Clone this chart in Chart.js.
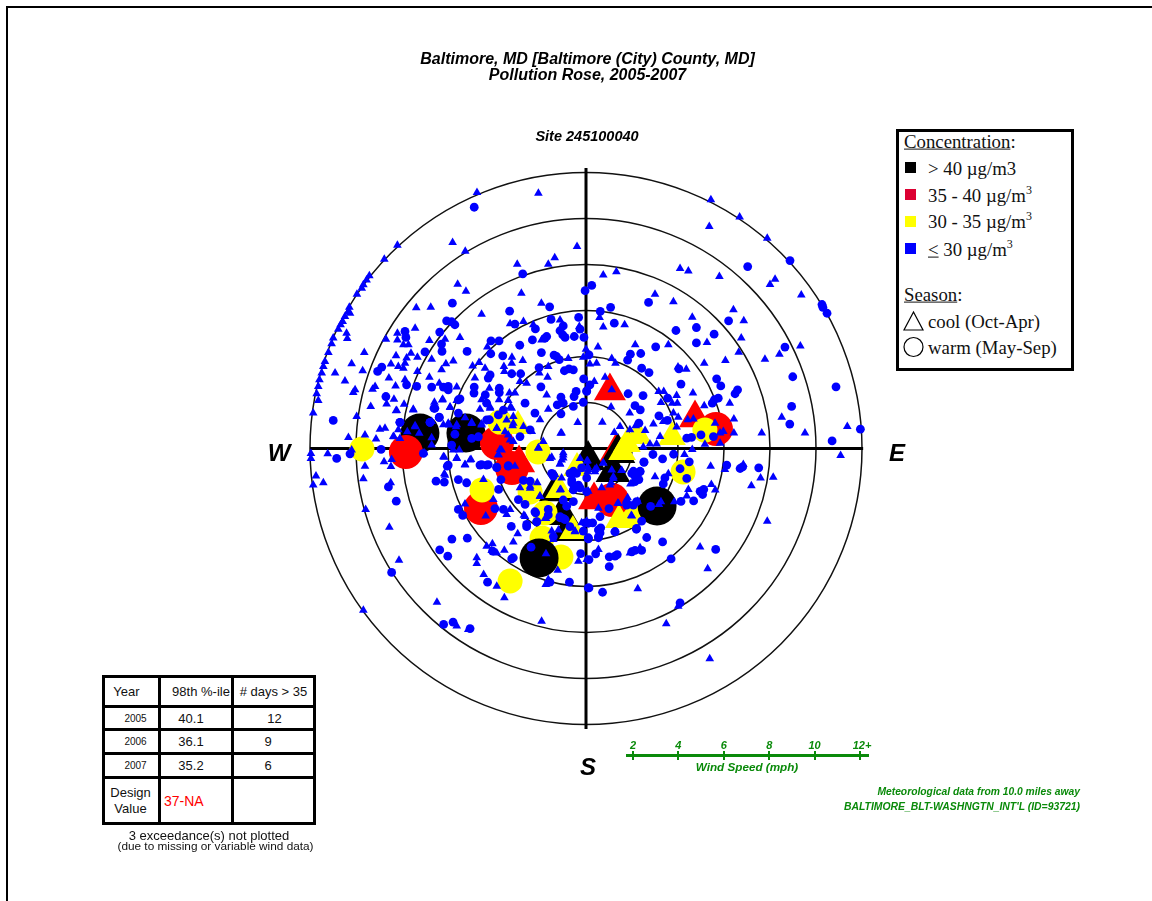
<!DOCTYPE html>
<html>
<head>
<meta charset="utf-8">
<title>Pollution Rose</title>
<script src="https://cdn.jsdelivr.net/npm/chart.js@4"></script>
<style>
html, body { margin: 0; padding: 0; background: #fff; overflow: hidden; }
#page { position: relative; width: 1152px; height: 901px; overflow: hidden; font-family: "Liberation Sans", Arial, sans-serif; }
#rose { position: absolute; left: 0; top: 0; }
.frame { position: absolute; background: #000; }
.t { position: absolute; white-space: nowrap; line-height: 1; }
.c { transform: translate(-50%, -50%); }
.bi { font-weight: bold; font-style: italic; }
.green { color: #0a8a0a; }
#legend { position: absolute; left: 896px; top: 129px; width: 172px; height: 236px; border: 3px solid #000; font-family: "Liberation Serif", serif; font-size: 18.8px; color: #111; background: #fff; }
#legend .t { transform: translateY(-50%); }
#legend .sw { position: absolute; width: 11px; height: 11px; left: 6px; }
#legend sup { font-size: 12px; line-height: 0; }
#stats { position: absolute; left: 102px; top: 675px; border-collapse: collapse; table-layout: fixed; width: 211px; font-size: 13px; color: #111; background: #fff; }
#stats td { border: 3px solid #000; padding: 0; text-align: center; }
#wind { position: absolute; left: 626px; top: 754px; width: 243px; height: 3px; background: #0a8a0a; }
.tick { position: absolute; top: 751px; width: 2px; height: 9px; background: #0a8a0a; }
</style>
</head>
<body>
<div id="page">
  <canvas id="rose" width="1152" height="901"></canvas>
  <div class="frame" style="left:6px;top:6px;width:1146px;height:2px"></div>
  <div class="frame" style="left:6px;top:6px;width:2px;height:895px"></div>

  <div class="t c bi" style="left:587.5px;top:59px;font-size:16px">Baltimore, MD [Baltimore (City) County, MD]</div>
  <div class="t c bi" style="left:587.5px;top:75px;font-size:16px">Pollution Rose, 2005-2007</div>
  <div class="t c bi" style="left:587px;top:136px;font-size:14.5px">Site 245100040</div>

  <div class="t c bi" style="left:279px;top:453px;font-size:24px">W</div>
  <div class="t c bi" style="left:897px;top:453px;font-size:24px">E</div>
  <div class="t c bi" style="left:588px;top:767px;font-size:24px">S</div>

  <div id="legend">
    <div class="t" style="left:5px;top:10px"><u>Concentration</u>:</div>
    <div class="sw" style="top:30px;background:#000"></div>
    <div class="t" style="left:29px;top:37px">&gt; 40 µg/m3</div>
    <div class="sw" style="top:57px;background:#dc0032"></div>
    <div class="t" style="left:29px;top:64px">35 - 40 µg/m<sup>3</sup></div>
    <div class="sw" style="top:84px;background:#ffff00"></div>
    <div class="t" style="left:29px;top:90px">30 - 35 µg/m<sup>3</sup></div>
    <div class="sw" style="top:111px;background:#0000ff"></div>
    <div class="t" style="left:29px;top:118px"><u>&lt;</u> 30 µg/m<sup>3</sup></div>
    <div class="t" style="left:5px;top:163px"><u>Season</u>:</div>
    <svg style="position:absolute;left:4px;top:178px" width="24" height="60">
      <path d="M10.5 2 L1 20 L20 20 Z" fill="none" stroke="#000" stroke-width="1.2"/>
      <circle cx="10.5" cy="37" r="9.5" fill="none" stroke="#000" stroke-width="1.2"/>
    </svg>
    <div class="t" style="left:29px;top:190px">cool (Oct-Apr)</div>
    <div class="t" style="left:29px;top:216px">warm (May-Sep)</div>
  </div>

  <table id="stats"></table>
  <div class="t c" style="left:209px;top:835px;font-size:13px;color:#111">3 exceedance(s) not plotted</div>
  <div class="t c" style="left:215.5px;top:847px;font-size:11.8px;color:#111">(due to missing or variable wind data)</div>

  <div id="wind"></div>
  <div class="t c bi green" style="left:747px;top:767px;font-size:11.7px">Wind Speed (mph)</div>
  <div class="t bi green" style="right:72px;top:787px;font-size:10.3px">Meteorological data from 10.0 miles away</div>
  <div class="t bi green" style="right:72px;top:802px;font-size:10.4px">BALTIMORE_BLT-WASHNGTN_INT'L (ID=93721)</div>
</div>

<script>
// wind rings, mph
const rings = [2, 4, 6, 8, 10, 12];
const windLabels = ['2', '4', '6', '8', '10', '12+'];

// table rows
const statHeader = ['Year', '98th %-ile', '# days > 35'];
const statYears = ['2005', '2006', '2007'];
const stat98th = ['40.1', '36.1', '35.2'];
const statDays = ['12', '9', '6'];
const designValue = '37-NA';

// every point is [east, north] in mph
const redTrianglesLow = [[1.30,-0.20]];
const blackTriangles = [[0.09,-0.50],[1.39,-0.20],[1.17,-1.02],[-1.30,-1.86],[-1.04,-2.89],[-0.78,-3.59]];
const yellowCirclesLow = [[-1.91,-3.89],[-1.09,-4.72],[1.91,-2.89]];
const blackCircles = [[-7.22,0.67],[-5.22,0.67],[-2.04,-4.76],[3.09,-2.50]];
const redCircles = [[-7.83,-0.15],[-3.87,0.24],[-4.57,-2.59],[5.65,0.85],[-3.22,-0.85],[1.13,-2.24]];
const redTriangles = [[1.04,2.50],[4.74,1.33],[-2.91,-0.63],[0.35,-2.24]];
const yellowCircles = [[-9.74,-0.02],[-3.30,-5.76],[-4.52,-1.80],[4.22,-1.02],[-2.09,-0.15],[-2.43,-1.89],[-1.78,-2.80],[-3.74,1.15],[5.17,0.80]];
const yellowTriangles = [[-2.96,0.98],[1.57,-0.15],[1.78,0.20],[2.26,0.54],[3.74,0.50],[-0.57,-3.59],[-1.17,-1.80],[-0.39,-0.85],[1.43,-3.11]];

const blueCircles = [
  [-4.86,10.49],[-2.75,7.59],[-0.04,6.86],[-5.81,6.32],[-3.32,5.97],[-1.58,6.16],[-1.52,5.61],[-0.32,5.70],[-6.06,5.55],[-5.84,5.51],
  [-5.70,5.38],[-3.09,5.41],[-2.20,5.20],[-0.99,5.33],[-0.26,5.19],[-1.13,5.12],[-1.01,4.94],[-0.91,4.83],[-0.51,4.87],[-0.09,4.83],
  [-1.71,4.87],[-1.78,4.80],[-2.33,4.72],[-7.87,5.09],[-7.83,4.83],[-6.36,5.06],[-6.28,4.54],[-6.26,4.22],[-5.17,4.22],[-7.00,4.20],
  [-4.13,4.68],[-3.78,4.68],[-4.14,4.12],[-3.62,4.03],[-2.88,4.49],[-1.94,4.17],[-1.39,4.06],[-1.28,4.00],[-1.16,3.86],[-0.94,3.38],
  [-0.74,3.46],[-0.55,3.42],[-2.04,3.52],[-4.17,3.20],[-4.25,3.06],[-3.23,3.25],[-2.84,3.25],[-0.10,3.03],[0.03,2.51],[-1.96,2.68],
  [-2.65,1.97],[-2.22,1.54],[-1.09,2.23],[-0.52,2.26],[-0.43,2.48],[-1.25,1.90],[-0.99,1.97],[-0.12,2.01],[-0.55,1.83],[-1.09,1.51],
  [-9.06,3.35],[-8.88,3.54],[-7.36,2.70],[-7.80,2.77],[-6.71,2.67],[-6.20,2.67],[-5.99,2.70],[-5.99,2.55],[-4.86,2.67],[-4.87,2.41],
  [-4.38,2.33],[-3.77,2.62],[-3.77,2.43],[-5.48,2.16],[-6.61,1.75],[-6.38,1.36],[-10.99,1.22],[-8.09,1.14],[-6.78,1.14],[-8.70,2.26],
  [-5.55,1.54],[-4.20,1.25],[-3.81,1.46],[-2.87,0.52],[-2.43,0.81],[-4.32,1.97],
  [-6.78,1.14],[-6.38,1.34],[-5.70,0.62],[-8.09,1.14],[-6.57,1.75],[-5.55,2.11],[-4.32,1.24],[-5.84,0.15],[-7.07,-0.21],[-4.97,0.44],
  [-4.68,0.51],[-5.99,-0.72],[-4.61,-0.72],[-4.32,-0.72],[-3.88,-0.83],[-3.38,-0.75],[-3.59,1.67],
  [7.03,7.91],[8.87,8.17],[10.26,6.26],[10.30,6.14],[10.48,5.88],[0.25,7.09],[2.72,6.35],[1.07,6.14],[0.62,5.96],[1.23,5.45],
  [3.91,5.13],[4.80,5.26],[6.20,5.55],[5.57,4.97],[4.80,4.59],[3.03,4.42],[8.65,4.41],[1.93,4.10],[2.38,4.13],[1.81,3.84],
  [0.13,4.07],[2.42,3.49],[2.74,3.30],[4.04,3.46],[5.68,3.03],[5.86,2.72],[8.99,3.12],[10.87,2.68],[4.13,2.80],[1.83,2.38],
  [2.48,2.30],[6.59,2.55],[6.48,2.38],[5.75,2.19],[5.58,2.12],[5.49,1.97],[2.13,1.86],[2.36,1.68],[8.94,1.83],[8.86,1.06],
  [3.17,1.42],[3.54,1.22],[2.30,1.10],[11.93,0.84],[10.70,0.33],[5.00,0.59],[4.59,0.48],[4.38,0.45],[5.54,0.52],[0.03,2.48],
  [0.17,2.77],[3.55,2.19],
  [-10.84,-0.43],[-10.26,-0.23],[-8.91,-0.04],[-8.59,-1.67],[-8.25,-2.29],[-8.45,-5.39],[-6.19,-7.65],[-5.78,-7.55],[-5.04,-7.83],[-5.83,-3.94],
  [-5.16,-3.90],[-6.36,-4.41],[-6.01,-4.68],[-4.06,-4.46],[-3.23,-4.80],[-3.16,-4.75],[-4.28,-5.81],[-0.72,-5.81],[0.10,-6.06],[-1.57,-5.81],
  [-0.23,-4.57],[-2.39,-4.29],[-3.25,-3.39],[-2.58,-3.30],[-2.14,-3.19],[-5.36,-2.91],[-5.55,-2.65],[-3.96,-2.61],[-3.59,-2.65],[-6.52,-1.42],
  [-6.16,-1.46],[-5.55,-1.35],[-5.19,-1.49],[-3.80,-1.78],[-3.70,-1.35],[-6.03,-0.77],[-4.54,-0.70],[-4.25,-0.70],[-3.88,-0.81],[-3.38,-0.77],
  [-2.94,-2.22],[-2.65,-2.43],[-2.19,-2.80],[-1.64,-2.65],[-1.13,-3.01],[-0.91,-3.09],[-0.84,-2.51],[-0.62,-1.49],[-0.26,-1.71],[0.03,-1.28],
  [-0.19,-0.84],[-0.55,-0.99],[-2.72,-1.39],[-2.43,-1.42],[-1.42,-1.20],[0.10,-3.88],[-0.12,-3.59],
  [2.52,-0.58],[2.91,-0.26],[3.33,-0.45],[3.81,-0.25],[4.49,-0.58],[4.09,-0.88],[4.38,-1.30],[6.12,-0.72],[6.70,-0.87],[6.81,-0.80],
  [7.51,-0.84],[2.35,-0.99],[2.06,-0.99],[2.13,-1.20],[2.30,-1.35],[3.43,-1.28],[3.36,-1.54],[4.96,-1.86],[5.12,-1.78],[5.07,-2.00],
  [4.68,-2.28],[4.13,-2.30],[2.81,-2.52],[2.06,-2.46],[1.77,-2.36],[1.00,-2.61],[2.42,-3.16],[2.19,-3.51],[1.26,-3.62],[2.64,-3.87],
  [3.33,-4.06],[5.64,-4.39],[2.42,-4.43],[2.13,-4.43],[1.99,-4.49],[1.36,-4.61],[1.26,-4.68],[1.01,-4.71],[0.42,-4.58],[0.13,-4.83],
  [3.70,-4.80],[1.01,-5.14],[0.13,-6.06],[0.72,-6.25],[4.09,-6.71],[0.64,-3.45],[0.61,-3.67],[0.54,-3.88],[0.10,-3.93],[0.29,-3.23],
  [-0.04,-3.23],
  [-1.49,-1.08],[-0.70,-1.08],[-0.41,-1.08],[-0.62,-1.37],[-0.33,-1.59],[-0.55,-1.80],[0.03,-1.88],[-0.99,-2.24],[-0.55,-2.31],[-0.99,-3.04],
  [-1.13,-2.96],[-1.64,-2.89],[-2.22,-2.75],[-2.58,-3.40],[-2.14,-3.18],[0.10,-3.25],[0.61,-2.96],[1.26,-3.62],[2.20,-3.47],[0.10,-3.91],
  [0.54,-3.83],[2.35,-1.01],[2.52,-0.60],[1.99,-1.08],[2.13,-1.44],[1.77,-2.46],[2.20,-2.31],[-0.70,-3.40],[-1.42,-3.83],[0.54,-3.54]
];

const blueTriangles = [
  [-4.74,11.13],[-2.07,11.10],[-8.20,8.84],[-8.77,8.23],[-5.80,8.96],[-5.25,8.58],[-0.39,8.78],[-2.99,8.01],[-1.36,8.29],[-1.64,8.01],
  [-9.42,7.51],[-9.54,7.33],[-9.68,7.12],[-9.75,6.97],[-9.96,6.71],[-5.58,7.14],[-5.22,6.84],[-2.81,6.75],[-7.38,6.12],[-6.75,6.14],
  [-4.54,5.84],[-1.94,6.32],[-10.29,6.14],[-10.33,5.96],[-10.26,5.88],[-10.48,5.74],[-10.58,5.52],[-10.67,5.38],[-10.77,5.19],[-10.41,5.01],
  [-10.38,4.78],[-10.99,4.80],[-11.06,4.55],[-11.20,4.17],[-11.35,3.78],[-11.42,3.57],[-11.49,3.28],[-11.59,2.99],[-11.64,2.70],[-11.71,2.38],
  [-11.64,2.09],[-11.86,1.54],[-7.43,5.23],[-8.70,4.75],[-8.20,5.01],[-8.20,4.72],[-6.81,4.70],[-6.13,4.75],[-5.48,4.83],[-7.94,4.51],
  [-7.72,4.51],[-9.64,4.17],[-8.26,4.03],[-7.61,4.14],[-7.33,3.97],[-7.80,3.93],[-6.71,3.88],[-7.87,3.71],[-10.19,3.68],[-9.71,3.38],
  [-8.48,3.67],[-8.16,3.57],[-7.94,3.49],[-10.91,3.28],[-10.48,2.93],[-10.04,2.55],[-10.12,2.43],[-7.33,3.35],[-6.81,3.10],[-8.57,3.06],
  [-9.17,2.70],[-9.28,2.58],[-8.28,2.72],[-7.87,2.99],[-6.38,2.84],[-5.62,2.67],[-6.28,3.42],[-6.09,3.68],[-5.77,3.80],[-4.93,3.59],
  [-4.65,3.74],[-4.29,4.41],[-4.39,3.49],[-3.57,3.57],[-3.23,3.71],[-3.22,3.97],[-2.75,3.83],[-3.55,3.35],[-4.83,3.06],[-4.20,2.62],
  [-1.64,3.57],[-2.03,3.28],[-1.67,3.10],[-0.77,3.91],[-0.12,3.97],[0.00,4.32],[-9.36,1.83],[-8.67,1.93],[-8.35,2.14],[-8.23,1.65],
  [-7.51,1.71],[-9.97,1.39],[-6.23,2.14],[-6.59,2.01],[-5.62,2.09],[-4.54,2.12],[-4.61,1.71],[-4.17,1.80],[-5.91,1.80],[-3.78,2.12],
  [-3.38,2.09],[-3.09,2.41],[-3.33,2.41],[-2.87,2.91],[-2.58,2.84],[-1.71,2.33],[-1.64,1.71],[-0.36,1.13],[-1.06,0.67],[-2.00,1.25],
  [-3.16,1.39],[-3.59,1.65],[-3.28,1.80],[-10.33,0.48],[-9.61,0.59],[-8.96,0.84],[-8.74,0.88],[-8.16,0.81],[-9.13,0.41],[-8.38,0.52],
  [-7.43,0.99],[-6.71,1.17],[-6.20,1.03],[-5.99,1.10],[-5.62,1.03],[-4.97,1.13],[-4.54,1.07],[-3.88,0.88],[-3.38,0.59],[-3.16,1.10],
  [-2.72,0.96],[-2.36,0.74],[-3.16,0.30],[-1.13,5.59],[-0.29,5.30],[-2.29,5.38],[-3.30,5.42],[-2.72,5.52],[-1.93,4.72],
  [-6.25,2.11],[-7.91,1.92],[-7.51,1.67],[-8.26,1.64],[-5.91,1.78],[-7.43,0.95],[-7.77,0.73],[-7.25,0.66],[-6.71,0.47],[-6.71,0.15],
  [-8.09,0.44],[-8.35,0.51],[-5.26,1.34],[-4.97,1.09],[-4.54,1.02],[-4.17,1.75],[-5.65,0.95],[-5.94,1.02],[-3.23,1.75],[-3.45,1.24],
  [-3.19,0.99],[-3.88,0.88],[-3.52,0.73],[-3.30,0.37],[-3.67,-0.07],[-3.81,-0.28],[-5.77,-0.07],[-5.51,-0.07],[-5.04,-0.50],[-5.26,-0.72],
  [-6.20,-0.36],[-6.13,-1.16],[-5.62,-0.43],
  [5.43,10.81],[6.68,10.06],[7.88,9.14],[5.36,9.65],[4.09,7.83],[4.45,7.72],[5.80,7.48],[8.22,7.36],[8.00,7.13],[0.75,7.54],
  [1.32,7.68],[9.36,6.67],[3.00,6.71],[3.80,6.38],[6.41,6.03],[4.62,5.71],[6.86,5.55],[0.59,5.70],[0.75,5.28],[1.68,5.38],
  [5.26,4.61],[6.75,4.80],[9.32,4.46],[0.52,4.41],[2.14,4.51],[3.58,4.51],[6.64,4.19],[8.41,4.10],[7.78,3.88],[6.06,3.83],
  [5.14,3.71],[0.46,3.71],[0.17,3.67],[1.12,3.91],[1.28,3.71],[4.00,3.54],[4.36,3.45],[0.83,3.10],[0.36,2.91],[1.12,2.55],
  [3.16,2.48],[3.38,2.48],[4.65,2.41],[3.94,2.30],[3.26,2.00],[3.75,1.97],[3.97,1.97],[6.25,1.97],[5.14,1.86],[1.90,1.54],
  [1.09,1.80],[0.71,1.14],[2.93,1.07],[3.80,1.54],[4.01,1.36],[3.36,1.17],[8.51,1.36],[6.43,1.28],[11.36,0.96],[9.52,0.67],
  [7.64,0.67],[6.43,0.67],[5.97,0.74],[5.83,0.67],[2.57,0.78],[2.16,0.99],[1.91,0.81],[1.48,0.96],[1.23,0.70],[2.78,0.20],
  [3.07,0.20],[2.49,0.06],[5.83,0.23],[5.17,0.19],[4.42,1.25],[4.67,1.28],[5.61,1.10],[3.94,0.93],[3.22,0.52],
  [-11.96,-0.22],[-11.96,-0.43],[-11.23,-0.23],[-10.19,-0.07],[-9.61,-0.77],[-8.78,-0.58],[-8.45,-0.48],[-8.48,-0.78],[-7.04,-0.19],[-9.68,-1.32],
  [-11.74,-1.20],[-11.86,-1.59],[-11.42,-1.49],[-8.49,-1.49],[-9.58,-2.65],[-8.55,-3.42],[-8.13,-4.86],[-9.68,-7.03],[-6.48,-6.68],[-5.62,-7.72],
  [-5.12,-7.87],[-1.93,-7.51],[-3.55,-6.49],[-3.88,-5.99],[-1.75,-5.91],[-1.64,-5.70],[-1.23,-5.29],[-4.45,-5.48],[-4.75,-4.75],[-4.75,-5.00],
  [-4.32,-4.25],[-4.07,-4.14],[-4.10,-4.43],[-3.88,-4.54],[-3.55,-4.42],[-3.16,-4.07],[-2.97,-3.71],[-2.70,-2.90],[-3.45,-2.87],[-3.30,-2.65],
  [-4.36,-2.94],[-4.03,-2.22],[-5.26,-2.41],[-4.46,-1.35],[-6.16,-0.38],[-5.62,-0.41],[-5.26,-0.70],[-5.00,-0.48],[-6.16,-1.10],[-3.09,-0.77],
  [-3.81,-0.26],[-3.74,-0.04],[-2.07,0.03],[-1.49,-0.38],[-0.99,-0.19],[-0.99,-0.41],[-1.13,-0.67],[-1.74,-3.04],[-0.48,-3.59],[-1.10,-1.78],
  [-2.00,-2.07],[-2.87,-1.71],[-2.12,-1.49],[-2.43,-1.64],[-1.35,-1.13],[-1.06,-1.28],[-0.19,-3.23],[0.03,-3.16],[-1.49,-3.59],[-1.42,-3.96],
  [-0.33,-4.90],[0.03,-4.83],[-1.74,-4.58],
  [11.07,-0.30],[5.42,-0.77],[4.62,-0.04],[4.28,-0.26],[6.04,-0.91],[6.84,-0.70],[8.14,-1.25],[7.59,-1.28],[7.19,-1.62],[5.45,-1.57],
  [5.62,-1.80],[4.45,-1.78],[4.38,-2.07],[3.00,-1.23],[3.58,-1.10],[1.93,-1.54],[1.19,-1.23],[1.55,-0.96],[0.39,-0.91],[0.03,-0.55],
  [0.10,-0.91],[0.75,-0.62],[1.09,-1.49],[0.10,-1.86],[1.41,-2.39],[1.81,-2.14],[2.25,-2.29],[3.26,-2.32],[3.17,-2.43],[3.84,-2.32],
  [1.97,-2.91],[7.88,-3.16],[4.96,-4.28],[5.29,-5.23],[2.25,-6.10],[4.01,-6.86],[3.49,-7.62],[5.38,-9.14],[0.54,-4.39],[1.91,-4.54],
  [2.35,-4.32],[0.68,-1.71],
  [-1.10,0.66],[-1.86,0.30],[-2.07,0.01],[-0.99,-0.28],[-1.06,-0.50],[-1.13,-0.67],[-1.57,-0.43],[-0.26,-0.43],[0.07,-0.53],[0.07,-0.79],
  [0.07,-1.01],[0.46,-0.86],[0.75,-0.64],[0.39,-1.01],[1.12,-0.93],[1.55,-0.96],[1.19,-1.30],[-1.13,-1.80],[-2.00,-2.09],[-2.43,-1.73],
  [-1.78,-3.04],[-2.65,-2.96],[-0.48,-3.62],[1.04,-1.59],[1.38,-2.38],[1.99,-2.93],[1.77,-2.24],[0.54,-2.60],[-1.20,-3.54]
];

// stats table
const statRows = [statHeader];
statYears.forEach((y, i) => statRows.push([y, stat98th[i], statDays[i]]));
const rowHeights = [30, 23, 24, 24, 46];
// small nudges so the text sits off-centre like the original table
const cellPads = [
  ['padding-right:10px', 'padding-left:10px', ''],
  ['padding-left:8px;font-size:10px', 'padding-right:10px', 'padding-left:2px'],
  ['padding-left:8px;font-size:10px', 'padding-right:10px', 'padding-right:11px'],
  ['padding-left:8px;font-size:10px', 'padding-right:10px', 'padding-right:11px']
];
let html = '<col style="width:56px"><col style="width:73px"><col style="width:82px">';
statRows.forEach((r, i) => {
  html += '<tr style="height:' + rowHeights[i] + 'px">';
  r.forEach((v, j) => {
    html += '<td style="' + cellPads[i][j] + '">' + v.replace('>', '&gt;') + '</td>';
  });
  html += '</tr>';
});
html += '<tr style="height:' + rowHeights[4] + 'px"><td style="line-height:16px;padding-right:2px">Design<br>Value</td>' +
  '<td style="color:#ff0000;text-align:left;padding-left:3px;font-size:14px">' + designValue + '</td><td></td></tr>';
document.getElementById('stats').innerHTML = html;

// wind speed scale
const page = document.getElementById('page');
windLabels.forEach((label, i) => {
  const x = 633 + i * 45.4;
  const tick = document.createElement('div');
  tick.className = 'tick';
  tick.style.left = (x - 1) + 'px';
  page.appendChild(tick);
  const txt = document.createElement('div');
  txt.className = 't c bi green';
  txt.style.cssText = 'left:' + (i === 5 ? x + 2 : x) + 'px;top:745px;font-size:11px';
  txt.textContent = label;
  page.appendChild(txt);
});

// rings and the compass cross go under the points
const rosePlot = {
  id: 'rosePlot',
  beforeDatasetsDraw(chart) {
    const { ctx, scales: { x, y } } = chart;
    const cx = x.getPixelForValue(0), cy = y.getPixelForValue(0);
    ctx.save();
    ctx.strokeStyle = '#111';
    ctx.lineWidth = 1.5;
    rings.forEach(r => {
      ctx.beginPath();
      ctx.arc(cx, cy, x.getPixelForValue(r) - cx, 0, Math.PI * 2);
      ctx.stroke();
    });
    ctx.strokeStyle = '#000';
    ctx.lineWidth = 3;
    ctx.beginPath();
    ctx.moveTo(x.getPixelForValue(-12), cy);
    ctx.lineTo(x.getPixelForValue(12.05), cy);
    ctx.moveTo(cx, y.getPixelForValue(12.2));
    ctx.lineTo(cx, y.getPixelForValue(-12.2));
    ctx.stroke();
    ctx.restore();
  }
};

function marks(label, data, color, style, radius, order) {
  return { label, data, order, backgroundColor: color, borderWidth: 0, pointStyle: style,
           pointRadius: radius, clip: false };
}

new Chart(document.getElementById('rose'), {
  type: 'scatter',
  data: {
    datasets: [
      marks('<=30 cool', blueTriangles, '#0000ff', 'triangle', 5, 1),
      marks('<=30 warm', blueCircles, '#0000ff', 'circle', 4.4, 2),
      marks('30-35 cool', yellowTriangles, '#ffff00', 'triangle', 16, 3),
      marks('30-35 warm', yellowCircles, '#ffff00', 'circle', 12.5, 4),
      marks('35-40 cool', redTriangles, '#ff0000', 'triangle', 18.5, 5),
      marks('35-40 warm', redCircles, '#ff0000', 'circle', 17, 6),
      marks('>40 warm', blackCircles, '#000000', 'circle', 19.5, 7),
      marks('30-35 warm', yellowCirclesLow, '#ffff00', 'circle', 12.5, 8),
      marks('>40 cool', blackTriangles, '#000000', 'triangle', 20, 9),
      marks('35-40 cool', redTrianglesLow, '#ff0000', 'triangle', 20, 10)
    ]
  },
  options: {
    responsive: false,
    devicePixelRatio: 1,
    animation: false,
    events: [],
    layout: { padding: { left: 310, right: 290, top: 172.5, bottom: 176.5 } },
    scales: {
      x: { type: 'linear', min: -12, max: 12, display: false },
      y: { type: 'linear', min: -12, max: 12, display: false }
    },
    plugins: { legend: { display: false }, tooltip: { enabled: false }, title: { display: false } }
  },
  plugins: [rosePlot]
});
</script>
</body>
</html>
